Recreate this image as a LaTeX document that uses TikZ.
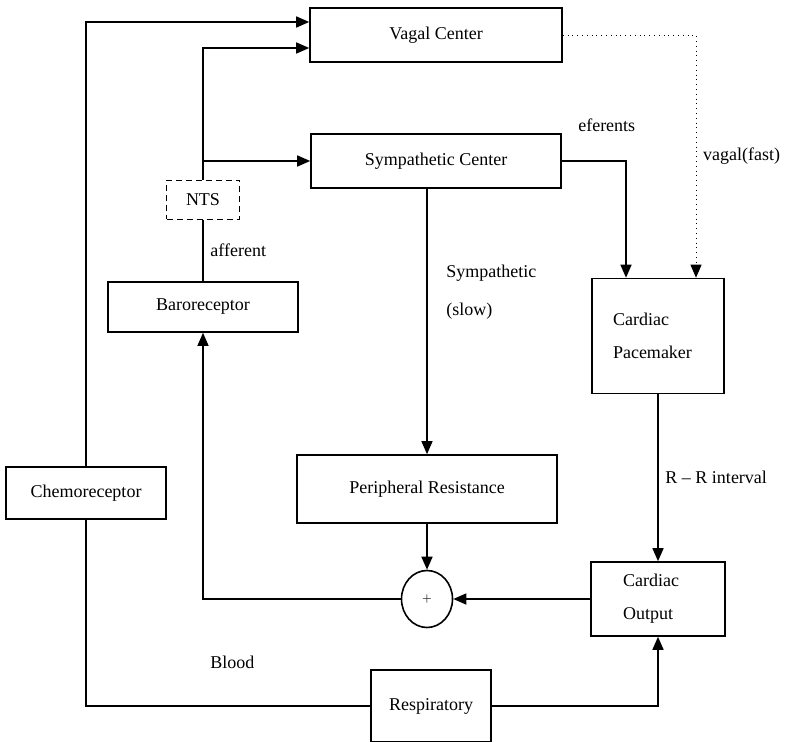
\documentclass[tikz,border=0pt]{standalone}
\usepackage{fontspec}
\setmainfont{Liberation Serif}
\usepackage{tikz}
\usetikzlibrary{positioning}
\usetikzlibrary{arrows,arrows.meta,shapes}
\usetikzlibrary{calc}
\tikzstyle{block}=[rectangle,draw,thick,inner sep=0pt,font=\fontsize{9}{16.5}\selectfont]
\tikzstyle{dashblock}=[rectangle,draw,thick,dash pattern=on 3pt off 2pt,inner sep=0pt,font=\fontsize{9}{11}\selectfont]
\tikzstyle{sumnode}=[ellipse,draw,thick,inner sep=0pt,minimum width=25.5pt,minimum height=28.5pt]
\tikzstyle{edge} = [draw,thick,-{Triangle[length=6.5pt,width=5.5pt]}]
\tikzstyle{thinedge} = [draw,semithick,-{Triangle[length=6.5pt,width=5.5pt]}]
\tikzstyle{line} = [draw,thick]
\tikzstyle{lbl} = [font=\fontsize{9}{19}\selectfont]

\begin{document}
\begin{tikzpicture}[x=0.5pt,y=-0.5pt]

 \useasboundingbox (0,0) rectangle (785,742);

 %boxes
   \foreach \x/\y/\w/\h/\name/\label in {436/35/126/27/vagal/Vagal Center, 436/161/125/27/symp/Sympathetic Center, 203/307/95/25/baro/Baroreceptor, 86/493/80/26/chemo/Chemoreceptor, 427/489/130/34/periph/Peripheral Resistance, 431/706/60/36/resp/Respiratory}
          \node[block, minimum width=\w pt, minimum height=\h pt] (\name) at (\x, \y) {\label};

 \node[dashblock, minimum width=36.5pt, minimum height=19.5pt] (nts) at (203,200) {NTS};

 \node[block, align=left, text width=45pt, inner xsep=10.5pt, minimum height=57.5pt] (pace) at (658,336) {Cardiac\\Pacemaker};
 \node[block, align=left, text width=35pt, inner xsep=16pt, minimum height=37pt] (outp) at (658,599) {Cardiac\\Output};

 \node[sumnode] (sum) at (427,599) {\tiny $+$};

 %afferent side
 \coordinate (split) at (nts.north |- symp.west);
 \draw[edge] (chemo.north) |- ([yshift=6.5pt]vagal.west);
 \draw[edge] (nts.north) |- ([yshift=-6.5pt]vagal.west);
 \draw[edge] (split) -- (symp.west);
 \draw[line] (baro.north) -- node[lbl,right] {afferent} (nts.south);

 %efferent side
 \coordinate (symdown) at (periph.north |- symp.south);
 \draw[edge,thin,dotted] (vagal.east) -| node[lbl,pos=0.75,right] {vagal(fast)} ([xshift=19pt]pace.north);
 \draw[edge] (symp.east) -| node[lbl,pos=0.35,above=11pt] {eferents} ([xshift=-16pt]pace.north);
 \draw[thinedge] (symdown) -- node[lbl,pos=0.39,right=6pt,align=left] {Sympathetic\\(slow)} (periph.north);
 \draw[edge] (pace.south) -- node[lbl,right] {R -- R interval} (outp.north);

 %loop
 \draw[edge] (periph.south) -- (sum.north);
 \draw[edge] (outp.west) -- (sum.east);
 \draw[thinedge] (sum.west) -| node[lbl,pos=0.5,below right=25pt and 0pt] {Blood} (baro.south);
 \draw[line] (chemo.south) |- (resp.west);
 \draw[edge] (resp.east) -| (outp.south);

\end{tikzpicture}
\end{document}
